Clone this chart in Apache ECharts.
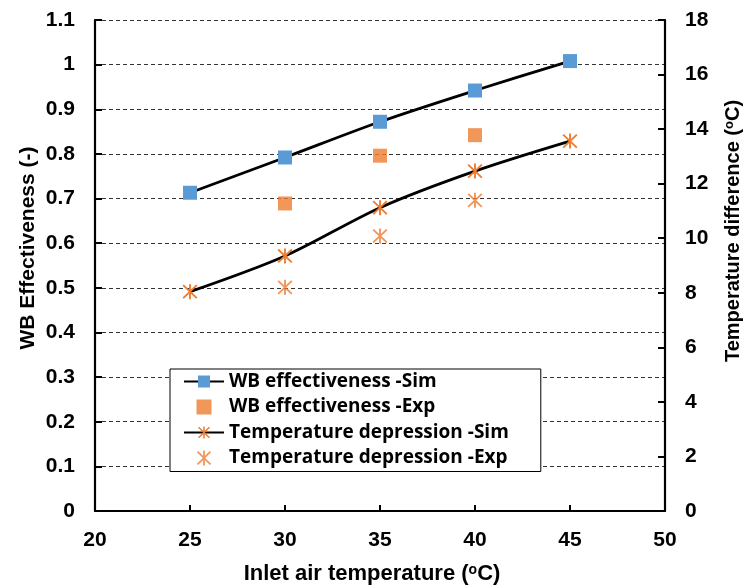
<!DOCTYPE html>
<html>
<head>
<meta charset="utf-8">
<script src="https://cdn.jsdelivr.net/npm/echarts@6/dist/echarts.min.js"></script>
<style>
html,body{margin:0;padding:0;background:#fff;}
#chart{width:744px;height:588px;}
</style>
</head>
<body>
<div id="chart"></div>
<script>
// ---- data ----
var temps = [25, 30, 35, 40, 45];
var wbSim = [0.713, 0.792, 0.872, 0.942, 1.008];
var wbExpTemps = [30, 35, 40];
var wbExp = [0.689, 0.796, 0.842];
var tdSim = [8.04, 9.35, 11.12, 12.46, 13.56];
var tdExpTemps = [30, 35, 40];
var tdExp = [8.2, 10.08, 11.39];
var xTicks = {min: 20, max: 50, interval: 5};
var yLeftTicks = {min: 0, max: 1.1, interval: 0.1};
var yRightTicks = {min: 0, max: 18, interval: 2};
var seriesNames = ['WB effectiveness -Sim', 'WB effectiveness -Exp', 'Temperature depression -Sim', 'Temperature depression -Exp'];

function pairs(xs, ys) { return xs.map(function (x, i) { return [x, ys[i]]; }); }

var BLUE = '#5B9BD5', ORANGE = '#ED7D31';
var SQUARE = 'path://M0,0L10,0L10,10L0,10Z';
var STAR = 'path://M-0.6,-5L0.6,-5L0.6,5L-0.6,5Z M-3.88,-4.72L4.72,3.88L3.88,4.72L-4.72,-3.88Z M-4.72,3.88L3.88,-4.72L4.72,-3.88L-3.88,4.72Z';
var FONT = '"Liberation Sans", Arial, sans-serif';

var chart = echarts.init(document.getElementById('chart'), null, {renderer: 'canvas'});
var axisLabelStyle = {color: '#000', fontFamily: FONT, fontWeight: 'bold', fontSize: 21};
function titleRich(size) {
  return {
    a: {fontFamily: FONT, fontWeight: 'bold', fontSize: size, fill: '#000', color: '#000'},
    s: {fontFamily: FONT, fontWeight: 'bold', fontSize: Math.round(size * 0.65), fill: '#000', color: '#000', verticalAlign: 'top'}
  };
}

chart.setOption({
  animation: false,
  backgroundColor: '#fff',
  grid: {left: 95, right: 79, top: 20, bottom: 77, containLabel: false},
  xAxis: {
    type: 'value', min: xTicks.min, max: xTicks.max, interval: xTicks.interval,
    axisLine: {show: true, onZero: false, lineStyle: {color: '#000', width: 2.2}},
    axisTick: {show: true, inside: true, length: 6, lineStyle: {color: '#000', width: 2}},
    axisLabel: Object.assign({margin: 19}, axisLabelStyle),
    splitLine: {show: false}
  },
  yAxis: [{
    type: 'value', min: yLeftTicks.min, max: yLeftTicks.max, interval: yLeftTicks.interval,
    axisLine: {show: true, lineStyle: {color: '#000', width: 2.2}},
    axisTick: {show: true, inside: true, length: 7, lineStyle: {color: '#000', width: 2}},
    axisLabel: Object.assign({margin: 20}, axisLabelStyle),
    splitLine: {show: true, lineStyle: {color: '#333', width: 1.2, type: [4, 3]}}
  }, {
    type: 'value', position: 'right', min: yRightTicks.min, max: yRightTicks.max, interval: yRightTicks.interval,
    axisLine: {show: true, lineStyle: {color: '#000', width: 2.2}},
    axisTick: {show: true, inside: true, length: 7, lineStyle: {color: '#000', width: 2}},
    axisLabel: Object.assign({margin: 20}, axisLabelStyle),
    splitLine: {show: false}
  }],
  legend: {
    left: 170, top: 369, orient: 'vertical',
    backgroundColor: '#fff', borderColor: '#000', borderWidth: 1,
    padding: [2, 32, 3, 13], itemGap: 4.5, itemWidth: 40, itemHeight: 15,
    symbolKeepAspect: true,
    textStyle: {fontFamily: '"Open Sans", sans-serif', fontWeight: 'bold', fontSize: 19, color: '#000', lineHeight: 21},
    data: seriesNames
  },
  series: [{
    name: seriesNames[0], type: 'line', yAxisIndex: 0, data: pairs(temps, wbSim),
    smooth: 0.3, symbol: SQUARE, symbolSize: 14,
    lineStyle: {color: '#000', width: 2.8}, itemStyle: {color: BLUE}, z: 3
  }, {
    name: seriesNames[1], type: 'scatter', yAxisIndex: 0, data: pairs(wbExpTemps, wbExp),
    symbol: SQUARE, symbolSize: 14, itemStyle: {color: ORANGE}
  }, {
    name: seriesNames[2], type: 'line', yAxisIndex: 1, data: pairs(temps, tdSim),
    smooth: 0.3, symbol: STAR, symbolSize: 15,
    lineStyle: {color: '#000', width: 2.8}, itemStyle: {color: ORANGE}, z: 3
  }, {
    name: seriesNames[3], type: 'scatter', yAxisIndex: 1, data: pairs(tdExpTemps, tdExp),
    symbol: STAR, symbolSize: 15, itemStyle: {color: ORANGE}
  }],
  graphic: [{
    type: 'text', x: 28, y: 248, rotation: Math.PI / 2,
    style: {text: 'WB Effectiveness (-)', font: 'bold 21px ' + FONT, fill: '#000', align: 'center', verticalAlign: 'middle'}
  }, {
    type: 'text', x: 733, y: 231, rotation: Math.PI / 2,
    style: {text: '{a|Temperature difference (}{s|o}{a|C)}', rich: titleRich(20), align: 'center', verticalAlign: 'middle'}
  }, {
    type: 'text', x: 372, y: 574,
    style: {text: '{a|Inlet air temperature (}{s|o}{a|C)}', rich: titleRich(22), align: 'center', verticalAlign: 'middle'}
  }]
});
</script>
</body>
</html>
